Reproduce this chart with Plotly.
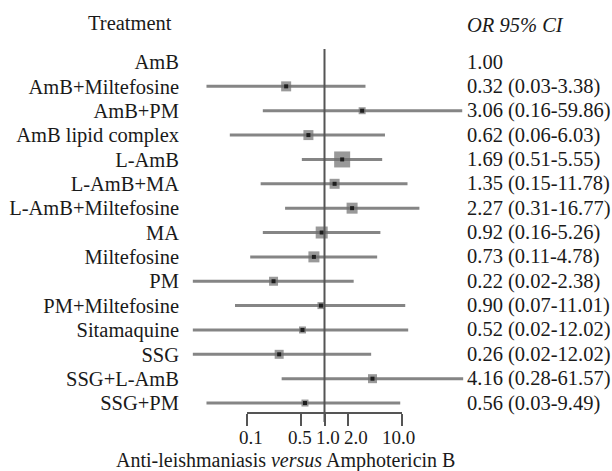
import math
import plotly.graph_objects as go

treatments = ["AmB", "AmB+Miltefosine", "AmB+PM", "AmB lipid complex", "L-AmB",
              "L-AmB+MA", "L-AmB+Miltefosine", "MA", "Miltefosine", "PM",
              "PM+Miltefosine", "Sitamaquine", "SSG", "SSG+L-AmB", "SSG+PM"]
odds_ratio = [1.00, 0.32, 3.06, 0.62, 1.69, 1.35, 2.27, 0.92, 0.73, 0.22,
              0.90, 0.52, 0.26, 4.16, 0.56]
# CI ends as drawn in the picture
ci_low = [None, 0.03, 0.16, 0.06, 0.51, 0.15, 0.31, 0.16, 0.11, 0.02,
          0.07, 0.02, 0.02, 0.28, 0.03]
ci_high = [None, 3.38, 59.86, 6.03, 5.55, 11.78, 16.77, 5.26, 4.78, 2.38,
           11.01, 12.02, 4.0, 61.57, 9.49]
# CI text as printed in the picture
or_ci_text = ["1.00", "0.32 (0.03-3.38)", "3.06 (0.16-59.86)", "0.62 (0.06-6.03)",
              "1.69 (0.51-5.55)", "1.35 (0.15-11.78)", "2.27 (0.31-16.77)",
              "0.92 (0.16-5.26)", "0.73 (0.11-4.78)", "0.22 (0.02-2.38)",
              "0.90 (0.07-11.01)", "0.52 (0.02-12.02)", "0.26 (0.02-12.02)",
              "4.16 (0.28-61.57)", "0.56 (0.03-9.49)"]
weight = [None, 10, 7, 10, 16, 10, 11, 12, 11, 9, 7, 7, 9, 9, 7]
tick_vals = [0.1, 0.5, 1.0, 2.0, 10.0]
tick_text = ["0.1", "0.5", "1.0", "2.0", "10.0"]

FONT = "Liberation Serif"
TXT = "#1a1a1a"
FS = 20.5
FS_TICK = 19
FS_TITLE = 20

rows = list(range(len(treatments)))
idx = [i for i in rows if ci_low[i] is not None]

fig = go.Figure()
# CI lines via error bars
fig.add_trace(go.Scatter(
    x=[odds_ratio[i] for i in idx], y=[rows[i] for i in idx], mode="markers",
    marker=dict(size=1, color="rgba(0,0,0,0)"),
    error_x=dict(type="data", symmetric=False,
                 array=[ci_high[i] - odds_ratio[i] for i in idx],
                 arrayminus=[odds_ratio[i] - ci_low[i] for i in idx],
                 color="#858585", thickness=3, width=0),
    hoverinfo="skip", showlegend=False))
# weight boxes
fig.add_trace(go.Scatter(
    x=[odds_ratio[i] for i in idx], y=[rows[i] for i in idx], mode="markers",
    marker=dict(symbol="square", size=[weight[i] for i in idx], color="#6e6e6e",
                line=dict(width=0)),
    showlegend=False))
fig.add_trace(go.Scatter(
    x=[odds_ratio[i] for i in idx], y=[rows[i] for i in idx], mode="markers",
    marker=dict(symbol="square", size=4, color="#1e1e1e", line=dict(width=0)),
    showlegend=False))

L, R, T, B = 185, 468, 40, 413
W, H = 612, 471
px_per_dec = 77.5
x1px = 324.5
xr = [(L - x1px) / px_per_dec, (R - x1px) / px_per_dec]
row0, dy = 62, 24.36
yr = [(B - row0) / dy, (T - row0) / dy]

shapes = [
    dict(type="line", xref="x", yref="paper", x0=1, x1=1,
         y0=-9 / (B - T), y1=(B - 49) / (B - T), line=dict(color="#555555", width=2)),
    dict(type="line", xref="x", yref="paper", x0=tick_vals[0], x1=tick_vals[-1],
         y0=0, y1=0, line=dict(color="#555555", width=2)),
]

annotations = []
for i in rows:
    annotations.append(dict(xref="paper", yref="y", x=(465 - L) / (R - L), y=rows[i],
                            text=or_ci_text[i], showarrow=False, xanchor="left",
                            yanchor="middle",
                            font=dict(family=FONT, size=FS, color=TXT)))
# tick labels (spread slightly as in the original)
tick_shift = [4, -1, 3, 8, -4]
for v, t, s in zip(tick_vals, tick_text, tick_shift):
    annotations.append(dict(xref="x", yref="paper", x=math.log10(v),
                            y=(B - 437) / (B - T), xshift=s,
                            text=t, showarrow=False, xanchor="center", yanchor="middle",
                            font=dict(family=FONT, size=FS_TICK, color=TXT)))
annotations += [
    dict(xref="paper", yref="paper", x=(130 - L) / (R - L), y=(B - 23) / (B - T),
         text="Treatment", showarrow=False, xanchor="center", yanchor="middle",
         font=dict(family=FONT, size=FS, color=TXT)),
    dict(xref="paper", yref="paper", x=(465 - L) / (R - L), y=(B - 25) / (B - T),
         text="<i>OR 95% CI</i>", showarrow=False, xanchor="left", yanchor="middle",
         font=dict(family=FONT, size=FS, color=TXT)),
    dict(xref="paper", yref="paper", x=(285 - L) / (R - L), y=(B - 460) / (B - T),
         text="Anti-leishmaniasis <i>versus</i> Amphotericin B", showarrow=False,
         xanchor="center", yanchor="middle",
         font=dict(family=FONT, size=FS_TITLE, color=TXT)),
]

fig.update_layout(
    width=W, height=H, margin=dict(l=L, r=W - R, t=T, b=H - B, pad=0),
    paper_bgcolor="white", plot_bgcolor="white", showlegend=False,
    font=dict(family=FONT, size=FS, color=TXT),
    xaxis=dict(type="log", range=xr, tickvals=tick_vals, ticktext=tick_text,
               showticklabels=False,
               ticks="outside", ticklen=12, tickwidth=2, tickcolor="#555555",
               tickangle=0, automargin=False,
               showgrid=False, zeroline=False, showline=False),
    yaxis=dict(range=yr, tickvals=rows, ticktext=treatments, ticks="",
               automargin=False,
               showgrid=False, zeroline=False, showline=False,
               ticklabelstandoff=5,
               tickfont=dict(family=FONT, size=FS, color=TXT)),
    shapes=shapes, annotations=annotations,
)

fig.write_html("out.html", config={"displayModeBar": False},
               post_script="document.body.style.margin='0px';document.body.style.padding='0px';")
